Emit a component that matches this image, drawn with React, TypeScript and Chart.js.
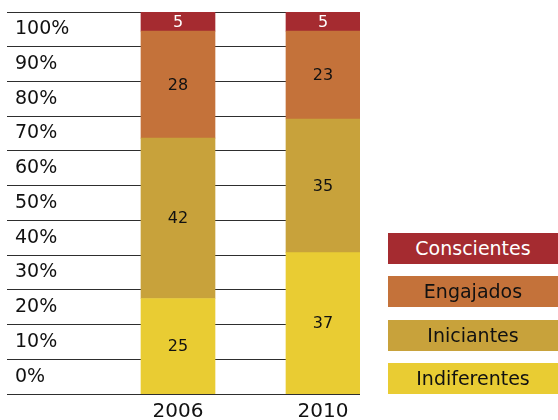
import React, { useEffect, useRef } from 'react';
import { Chart, registerables } from 'chart.js';

Chart.register(...registerables);

const categories = ['2006', '2010'];
const seriesNames = ['Indiferentes', 'Iniciantes', 'Engajados', 'Conscientes'];
const indiferentes = [25, 37];
const iniciantes = [42, 35];
const engajados = [28, 23];
const conscientes = [5, 5];
const tickLabels = ['0%', '10%', '20%', '30%', '40%', '50%', '60%', '70%', '80%', '90%', '100%'];

const seriesValues = [indiferentes, iniciantes, engajados, conscientes];
const colors = ['#E9CC33', '#C8A23B', '#C4723A', '#A52B30'];
const textColors = ['#111111', '#111111', '#111111', '#FFFFFF'];
const FONT = '"DejaVu Sans", sans-serif';

const valueLabels = {
  id: 'valueLabels',
  afterDatasetsDraw(chart: any) {
    const ctx = chart.ctx;
    chart.data.datasets.forEach((ds: any, i: number) => {
      const meta = chart.getDatasetMeta(i);
      meta.data.forEach((el: any, j: number) => {
        const p = el.getProps(['x', 'y', 'base'], true);
        ctx.save();
        ctx.fillStyle = textColors[i];
        ctx.font = `16px ${FONT}`;
        ctx.textAlign = 'center';
        ctx.textBaseline = 'middle';
        ctx.fillText(String(ds.data[j].y), p.x, (p.y + p.base) / 2 + 1);
        ctx.restore();
      });
    });
  },
};

const zeroPad = (s: any) => {
  s.paddingTop = 0;
  s.paddingBottom = 0;
  s.paddingLeft = 0;
  s.paddingRight = 0;
};

export default function App() {
  const ref = useRef<HTMLCanvasElement | null>(null);

  useEffect(() => {
    if (!ref.current) return;
    const chart = new Chart(ref.current, {
      type: 'bar',
      data: {
        datasets: seriesNames.map((name, i) => ({
          label: name,
          data: seriesValues[i].map((v, j) => ({ x: j, y: v })),
          backgroundColor: colors[i],
          borderWidth: 0,
          barThickness: 74,
        })),
      },
      options: {
        animation: false,
        responsive: true,
        maintainAspectRatio: false,
        layout: { padding: { left: 7, top: 12, right: 198, bottom: 0 } },
        plugins: { legend: { display: false }, tooltip: { enabled: false } },
        scales: {
          x: {
            type: 'linear',
            offset: false,
            min: -1.1793,
            max: 1.2552,
            stacked: true,
            grid: { display: false, drawTicks: false, offset: false },
            border: { display: false },
            afterBuildTicks: (s: any) => {
              s.ticks = categories.map((_, i) => ({ value: i }));
            },
            afterFit: (s: any) => {
              s.height = 26;
              zeroPad(s);
            },
            ticks: {
              padding: 6,
              color: '#111111',
              font: { family: FONT, size: 20 },
              callback: (v: any) => categories[v as number] ?? '',
            },
          },
          y: {
            display: false,
            stacked: true,
            min: 0,
            max: 100,
          },
          yGrid: {
            type: 'linear',
            position: 'left',
            min: 0,
            max: 11,
            border: { display: false },
            grid: { color: '#2e2e2e', lineWidth: 1, drawTicks: false },
            ticks: { display: false, stepSize: 1 },
            afterBuildTicks: (s: any) => {
              s.ticks = Array.from({ length: 12 }, (_, i) => ({ value: i }));
            },
            afterFit: (s: any) => {
              s.width = 0;
              zeroPad(s);
            },
          },
          yLab: {
            type: 'linear',
            position: 'left',
            min: 0,
            max: 11,
            border: { display: false },
            grid: { display: false, drawTicks: false },
            afterBuildTicks: (s: any) => {
              s.ticks = tickLabels.map((_, i) => ({ value: i + 0.5 }));
            },
            afterFit: (s: any) => {
              s.width = 0;
              zeroPad(s);
            },
            ticks: {
              mirror: true,
              padding: 8,
              color: '#111111',
              font: { family: FONT, size: 19 },
              callback: (v: any) => tickLabels[Math.floor(v as number)] ?? '',
            },
          },
        },
      } as any,
      plugins: [valueLabels],
    });
    return () => chart.destroy();
  }, []);

  const legendTops = [233, 276, 320, 363];
  const legendOrder = [3, 2, 1, 0];

  return (
    <div style={{ position: 'absolute', left: 0, top: 0, width: 558, height: 420, background: '#fff' }}>
      <canvas ref={ref} />
      {legendOrder.map((si, k) => (
        <div
          key={seriesNames[si]}
          style={{
            position: 'absolute',
            left: 388,
            top: legendTops[k],
            width: 170,
            height: 31,
            lineHeight: '31px',
            background: colors[si],
            color: textColors[si],
            fontFamily: FONT,
            fontSize: 19,
            textAlign: 'center',
          }}
        >
          {seriesNames[si]}
        </div>
      ))}
    </div>
  );
}
